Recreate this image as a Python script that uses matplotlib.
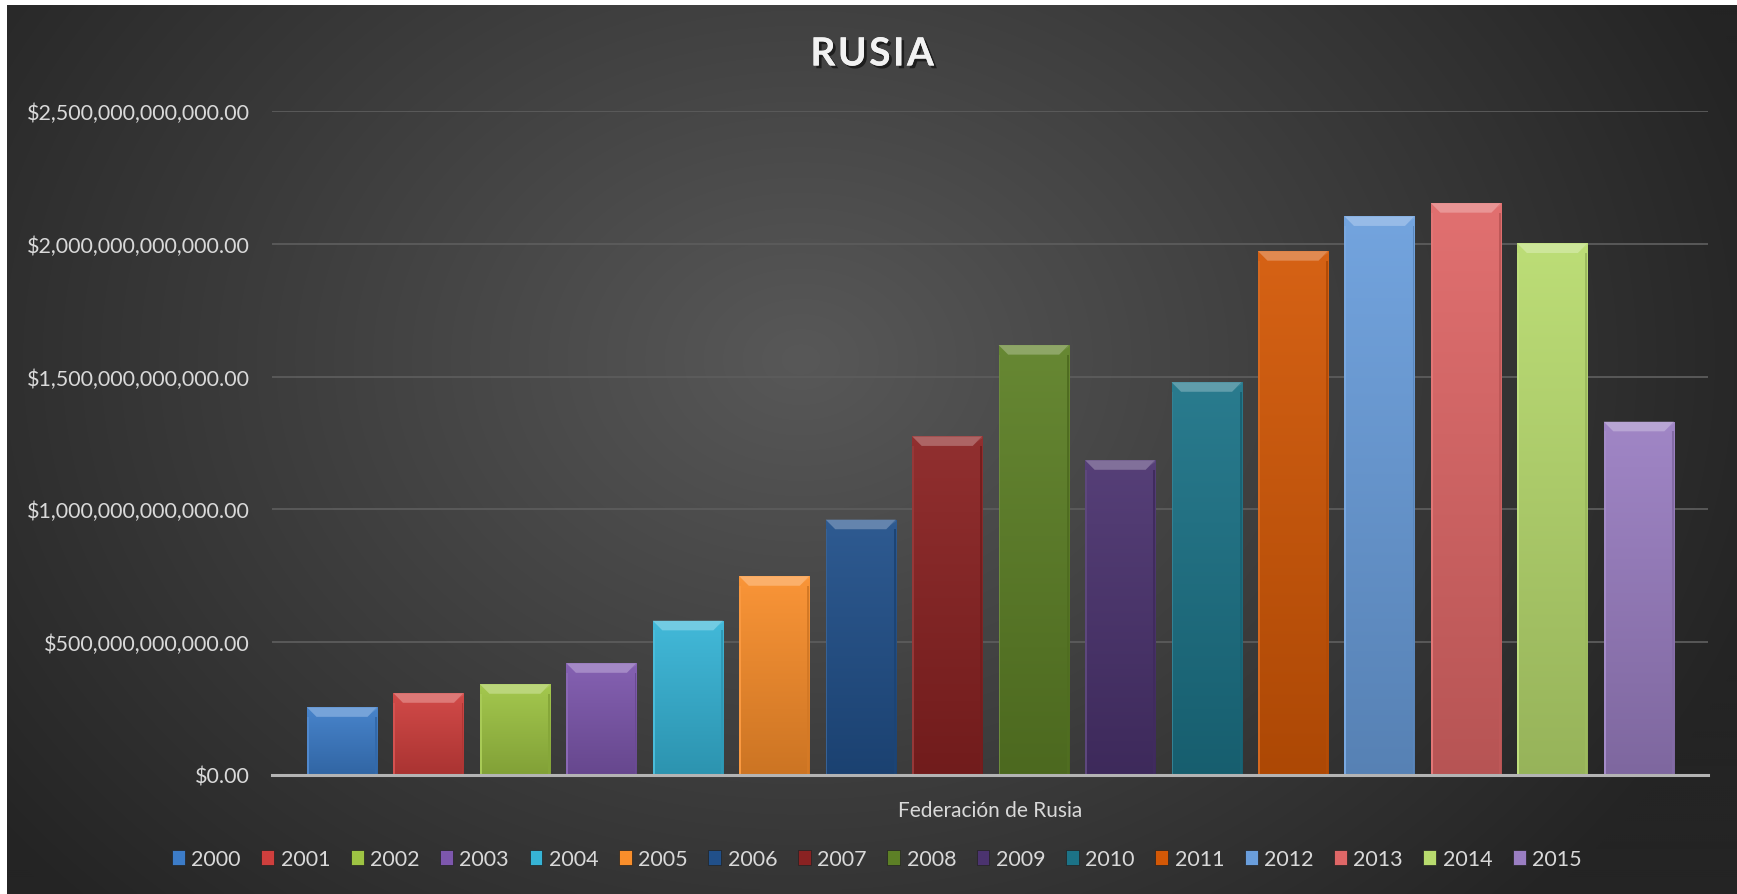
import numpy as np
import matplotlib

matplotlib.use("Agg")
import matplotlib.pyplot as plt
from matplotlib.patches import Polygon, Patch, Rectangle
from matplotlib.ticker import FuncFormatter
import matplotlib.patheffects as pe

plt.rcParams["font.family"] = ["Lato", "DejaVu Sans"]

# PIB de la Federación de Rusia (US$ corrientes)
years = ["2000", "2001", "2002", "2003", "2004", "2005", "2006", "2007",
         "2008", "2009", "2010", "2011", "2012", "2013", "2014", "2015"]
gdp_usd = [0.254e12, 0.307e12, 0.341e12, 0.420e12, 0.580e12, 0.748e12,
           0.961e12, 1.275e12, 1.619e12, 1.185e12, 1.479e12, 1.973e12,
           2.104e12, 2.154e12, 2.002e12, 1.330e12]
bar_colors = ["#3c7cc8", "#cf3f3d", "#9ec443", "#7d57ad", "#36b4d6", "#f98e2b",
              "#21508a", "#8a2222", "#5d8026", "#4b336f", "#1c7387", "#d35806",
              "#6a9edc", "#df6767", "#b8db6e", "#9a7ec2"]
y_ticks = [0, 0.5e12, 1.0e12, 1.5e12, 2.0e12, 2.5e12]

W, H = 1737, 895
fig = plt.figure(figsize=(W / 100, H / 100), dpi=100)
fig.patch.set_facecolor("white")

# fondo con degradado radial
bg = fig.add_axes([7 / W, 0, 1 - 7 / W, 1 - 6 / H], zorder=-10)
gy, gx = np.mgrid[6:H:2, 7:W:2]
d = np.sqrt(((gx - 800) / 1050) ** 2 + ((gy - 360) / 820) ** 2)
shade = np.clip(88 - 54 * d, 36, 88) / 255
bg.imshow(np.dstack([shade] * 3), aspect="auto", extent=[0, 1, 0, 1],
          interpolation="bilinear")
bg.set_axis_off()

ax = fig.add_axes([272 / W, (H - 775.7) / H, (1708 - 272) / W, (775.7 - 112.3) / H])
ax.set_facecolor("none")
x = np.arange(len(years))
width = 0.81
ax.set_xlim(-0.81, len(years) - 1 + 0.80)
ax.set_ylim(0, 2.5e12)

bars = ax.bar(x, gdp_usd, width=width, color=bar_colors, zorder=3,
              edgecolor="#1e1e1e", linewidth=0.6)


def mix(c, t, amount):
    c = np.array(matplotlib.colors.to_rgb(c))
    return tuple(c + (np.array(t) - c) * amount)


bevel_h = 0.036e12
bevel_w = 0.11
for rect, col in zip(bars, bar_colors):
    x0, w, h = rect.get_x(), rect.get_width(), rect.get_height()
    # degradado vertical dentro de la barra
    top = np.array(mix(col, (1, 1, 1), 0.06))
    bottom = np.array(mix(col, (0, 0, 0), 0.18))
    t = np.linspace(0, 1, 64)[:, None]
    grad = top * (1 - t) + bottom * t
    im = ax.imshow(grad[:, None, :].repeat(2, axis=1), aspect="auto",
                   extent=[x0, x0 + w, 0, h], zorder=3.1, interpolation="bilinear")
    im.set_clip_path(rect)
    # bisel superior y laterales
    ax.add_patch(Polygon([[x0, h], [x0 + w, h], [x0 + w - bevel_w, h - bevel_h],
                          [x0 + bevel_w, h - bevel_h]], closed=True,
                         facecolor=mix(col, (1, 1, 1), 0.3), edgecolor="none", zorder=3.3))
    ax.add_patch(Polygon([[x0 + w, h], [x0 + w - bevel_w, h - bevel_h],
                          [x0 + w - bevel_w * 0.6, h - bevel_h * 0.6], [x0 + w, h - bevel_h * 0.2]],
                         closed=True, facecolor=mix(col, (1, 1, 1), 0.15), edgecolor="none",
                         zorder=3.35))
    ax.add_patch(Rectangle((x0, 0), 0.02, h - bevel_h, facecolor=mix(col, (1, 1, 1), 0.1),
                           edgecolor="none", zorder=3.2))
    ax.add_patch(Rectangle((x0 + w - 0.022, 0), 0.022, h - bevel_h,
                           facecolor=mix(col, (0, 0, 0), 0.15), edgecolor="none", zorder=3.2))

ax.set_yticks(y_ticks)
ax.yaxis.set_major_formatter(FuncFormatter(lambda v, p: "${:,.2f}".format(v)))
ax.grid(axis="y", color="#5c5c5c", linewidth=1.3, zorder=0)
ax.tick_params(axis="y", length=0, pad=16, labelsize=15.5, labelcolor="#d9d9d9")
ax.set_xticks([])
for s in ["top", "right", "left"]:
    ax.spines[s].set_visible(False)
ax.spines["bottom"].set_color("#b4b4b4")
ax.spines["bottom"].set_linewidth(2.2)
ax.spines["bottom"].set_zorder(4)

ax.set_xlabel("Federación de Rusia", fontsize=15, color="#d9d9d9", labelpad=18)

fig.text(872 / W, 1 - 55 / H, "R U S I A".replace(" ", "\u200a"), ha="center", va="center",
         fontsize=28, fontweight="bold", color="#f2f2f2",
         path_effects=[pe.withSimplePatchShadow(offset=(2, -2), shadow_rgbFace="black", alpha=0.55),
                       pe.Normal()])

handles = [Patch(facecolor=c, edgecolor="#222222", linewidth=0.5) for c in bar_colors]
leg = fig.legend(handles, years, loc="center", bbox_to_anchor=(877 / W, 1 - 860 / H),
                 ncol=len(years), frameon=False, fontsize=15.5, handlelength=0.6,
                 handleheight=0.75, handletextpad=0.3, columnspacing=0.95,
                 labelcolor="#d9d9d9")

fig.savefig("out.png", dpi=100)
